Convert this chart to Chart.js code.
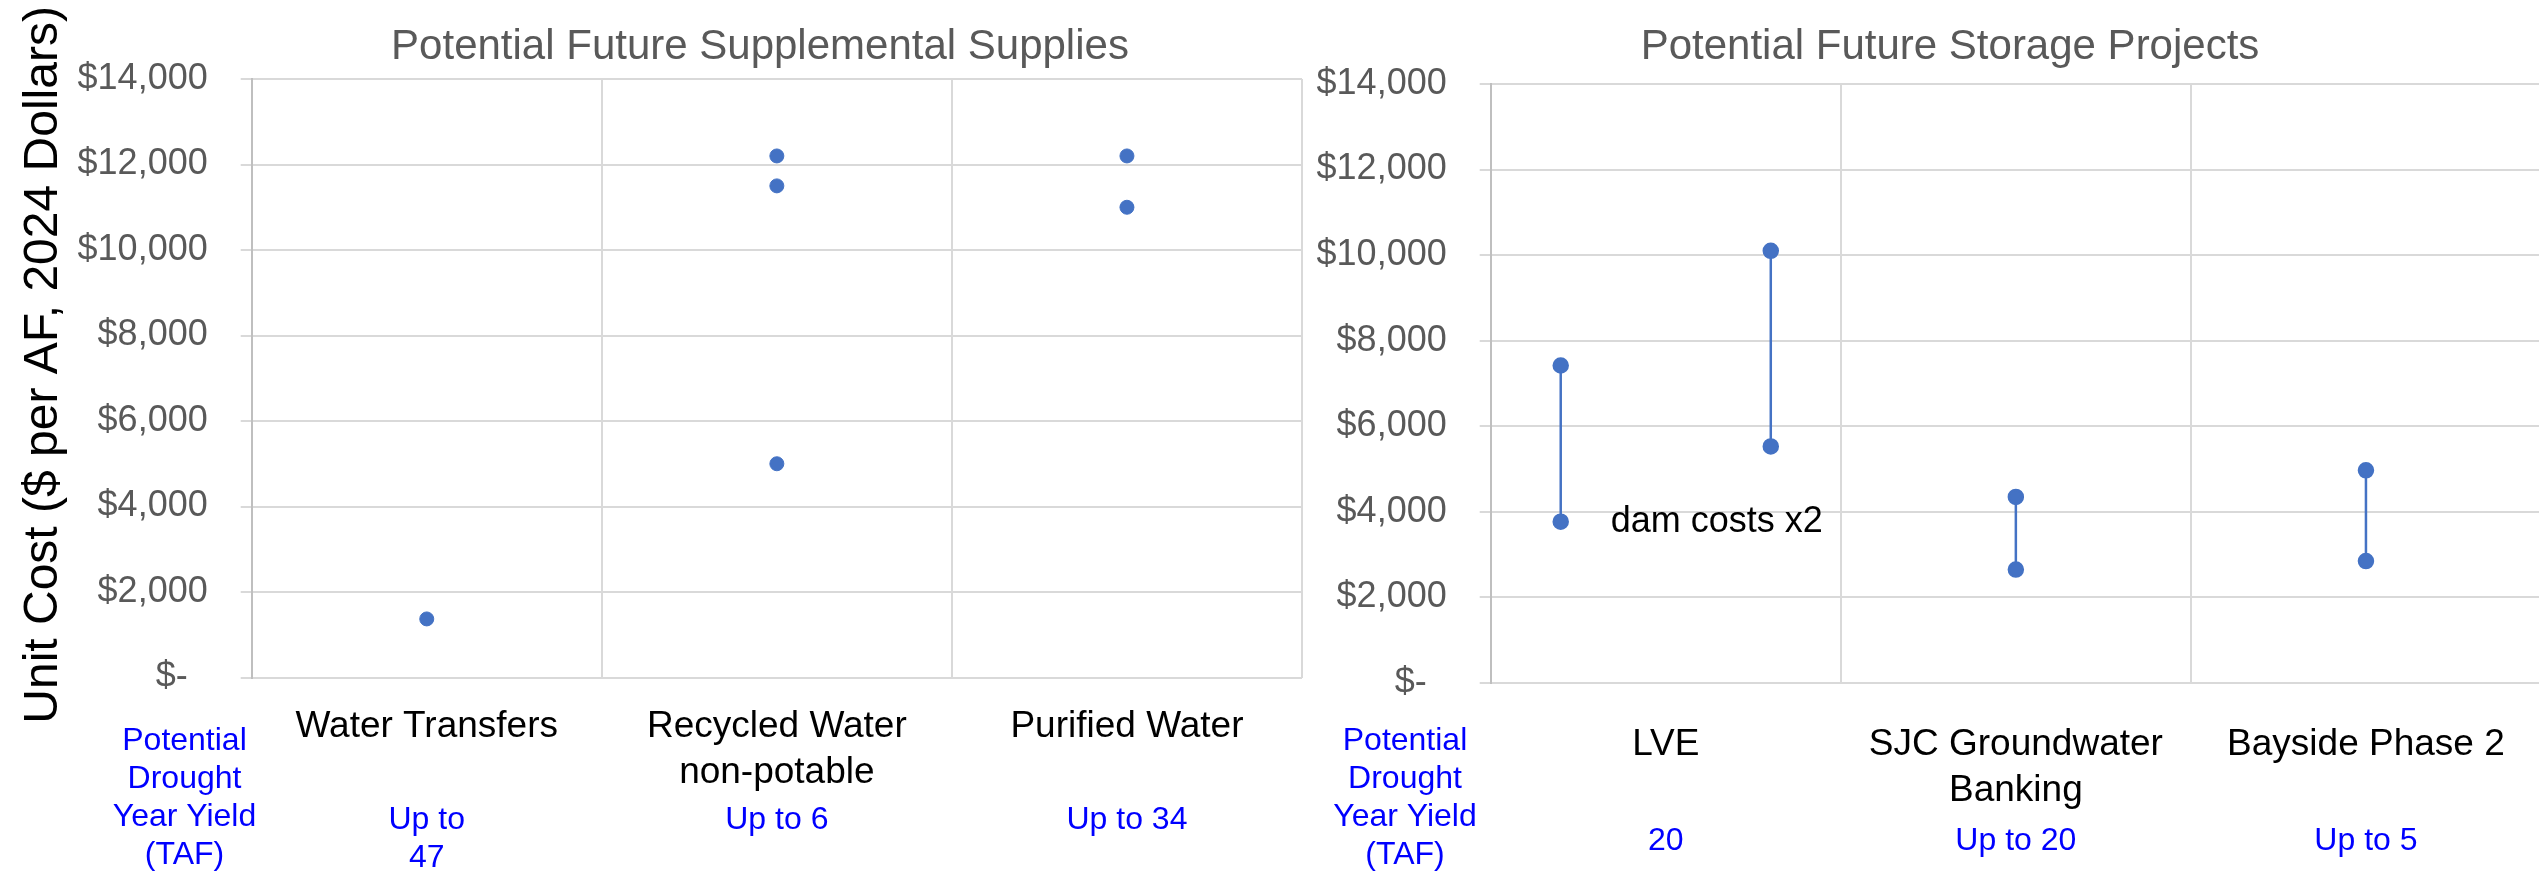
<!DOCTYPE html>
<html>
<head>
<meta charset="utf-8">
<title>Potential Future Supplies and Storage - Unit Cost</title>
<script src="https://cdn.jsdelivr.net/npm/chart.js@4.4.1/dist/chart.umd.min.js"></script>
<style>
  body { margin: 0; background: #fff; overflow: hidden; }
  #supplyBox { position: absolute; left: 0; top: 0; width: 1520px; height: 875px; }
  #storageBox { position: absolute; left: 1300px; top: 0; width: 1300px; height: 875px; }
</style>
</head>
<body>
<div id="supplyBox"><canvas id="supplyChart"></canvas></div>
<div id="storageBox"><canvas id="storageChart"></canvas></div>
<script>
'use strict'

// left panel - supplemental supplies
const supplyNames = ['Water Transfers', ['Recycled Water', 'non-potable'], 'Purified Water'];
const supplyYield = [['Up to', '47'], 'Up to 6', 'Up to 34'];
const supplyCosts = [[1370], [12200, 11500, 5000], [12200, 11000]];

// right panel - storage projects (low / high cost range per project)
const storageNames = ['LVE', ['SJC Groundwater', 'Banking'], 'Bayside Phase 2'];
const storageYield = ['20', 'Up to 20', 'Up to 5'];
const storageX = [0.2, 0.8, 1.5, 2.5];
const storageLow = [3770, 5530, 2650, 2850];
const storageHigh = [7420, 10100, 4350, 4970];
const storageNote = 'dam costs x2';

const yieldHeader = ['Potential', 'Drought', 'Year Yield', '(TAF)'];
const costTicks = [0, 2000, 4000, 6000, 8000, 10000, 12000, 14000];

const FONT = "'Liberation Sans', Arial, sans-serif";
const BLUE = '#4472c4';
Chart.defaults.font.family = FONT;

// blue yield header on the left of each panel, plus optional point note
const panelNotes = {
  id: 'panelNotes',
  afterDraw(chart, args, opts) {
    const ctx = chart.ctx;
    ctx.save();
    ctx.textAlign = 'center';
    ctx.textBaseline = 'middle';
    ctx.fillStyle = '#0000ff';
    ctx.font = '32px ' + FONT;
    yieldHeader.forEach(function (line, i) {
      ctx.fillText(line, opts.headerX, opts.headerTop + i * 38);
    });
    if (opts.note) {
      const pt = chart.getDatasetMeta(0).data[0];
      ctx.fillStyle = '#000';
      ctx.font = '36px ' + FONT;
      ctx.textAlign = 'left';
      ctx.fillText(opts.note, pt.x + 50, pt.y);
    }
    ctx.restore();
  }
};

function costAxis(width, title) {
  return {
    min: 0,
    max: 14000,
    afterBuildTicks: function (scale) {
      scale.ticks = costTicks.map(function (v) { return { value: v }; });
    },
    afterFit: function (scale) { scale.width = width; },
    ticks: {
      color: '#595959',
      padding: 33,
      font: { size: 36 },
      callback: function (v) { return v === 0 ? '$-  ' : '$' + v.toLocaleString('en-US'); }
    },
    grid: { color: '#d9d9d9', lineWidth: 2, tickLength: 11 },
    border: { color: '#bfbfbf', width: 2 },
    title: {
      display: !!title,
      text: title || '',
      color: '#000',
      font: { size: 48 },
      padding: { top: 15, bottom: 0 }
    }
  };
}

// hidden linear x for the marks, two label rows below, spacer on the right
function bandAxes(names, yields, nameGap, nameHeight, yieldGap, yieldHeight, gutter) {
  return {
    x: {
      type: 'linear', min: 0, max: 3,
      ticks: { display: false, stepSize: 1 },
      grid: { color: '#d9d9d9', lineWidth: 2, drawTicks: false },
      border: { display: false }
    },
    xName: {
      type: 'category', position: 'bottom', labels: names, offset: true,
      grid: { display: false, drawTicks: false },
      border: { display: false },
      ticks: { color: '#000', font: { size: 37, lineHeight: 1.243 }, padding: nameGap, autoSkip: false, maxRotation: 0 },
      afterFit: function (scale) { scale.height = nameHeight; }
    },
    xYield: {
      type: 'category', position: 'bottom', labels: yields, offset: true,
      grid: { display: false, drawTicks: false },
      border: { display: false },
      ticks: { color: '#0000ff', font: { size: 32, lineHeight: 1.19 }, padding: yieldGap, autoSkip: false, maxRotation: 0 },
      afterFit: function (scale) { scale.height = yieldHeight; }
    },
    gutter: {
      type: 'linear', position: 'right',
      ticks: { display: false },
      grid: { display: false, drawTicks: false },
      border: { display: false },
      afterFit: function (scale) { scale.width = gutter; }
    }
  };
}

function panelTitle(text, top, bottom) {
  return {
    display: true,
    text: text,
    color: '#595959',
    font: { size: 42, weight: 'normal' },
    padding: { top: top, bottom: bottom }
  };
}

const supplyData = supplyCosts.map(function (costs, i) {
  return {
    label: supplyNames[i],
    data: costs.map(function (c) { return { x: i + 0.5, y: c }; }),
    showLine: false,
    pointRadius: 7,
    pointBackgroundColor: BLUE,
    pointBorderColor: BLUE,
    xAxisID: 'x',
    yAxisID: 'y'
  };
});

const supplyScales = bandAxes(supplyNames, supplyYield, 26.5, 125, -1.5, 72.5, 218);
supplyScales.y = costAxis(251.7, '  Unit Cost ($ per AF, 2024 Dollars)');

new Chart(document.getElementById('supplyChart'), {
  type: 'scatter',
  data: { datasets: supplyData },
  options: {
    responsive: true,
    maintainAspectRatio: false,
    animation: false,
    layout: { padding: 0 },
    scales: supplyScales,
    plugins: {
      legend: { display: false },
      tooltip: { enabled: false },
      title: panelTitle('Potential Future Supplemental Supplies', 22.3, 6.3),
      panelNotes: { headerX: 184.5, headerTop: 741, note: '' }
    }
  },
  plugins: [panelNotes]
});

const storageData = storageX.map(function (x, i) {
  return {
    label: 'range ' + (i + 1),
    data: [{ x: x, y: storageLow[i] }, { x: x, y: storageHigh[i] }],
    showLine: true,
    borderColor: BLUE,
    borderWidth: 2.5,
    pointRadius: 7,
    pointBackgroundColor: BLUE,
    pointBorderColor: BLUE,
    xAxisID: 'x',
    yAxisID: 'y'
  };
});

const storageScales = bandAxes(storageNames, storageYield, 39, 137, 2, 55, 59);
storageScales.y = costAxis(190.7, '');

new Chart(document.getElementById('storageChart'), {
  type: 'scatter',
  data: { datasets: storageData },
  options: {
    responsive: true,
    maintainAspectRatio: false,
    animation: false,
    layout: { padding: 0 },
    scales: storageScales,
    plugins: {
      legend: { display: false },
      tooltip: { enabled: false },
      title: panelTitle('Potential Future Storage Projects', 21.8, 11.8),
      panelNotes: { headerX: 105, headerTop: 741, note: storageNote }
    }
  },
  plugins: [panelNotes]
});
</script>
</body>
</html>
